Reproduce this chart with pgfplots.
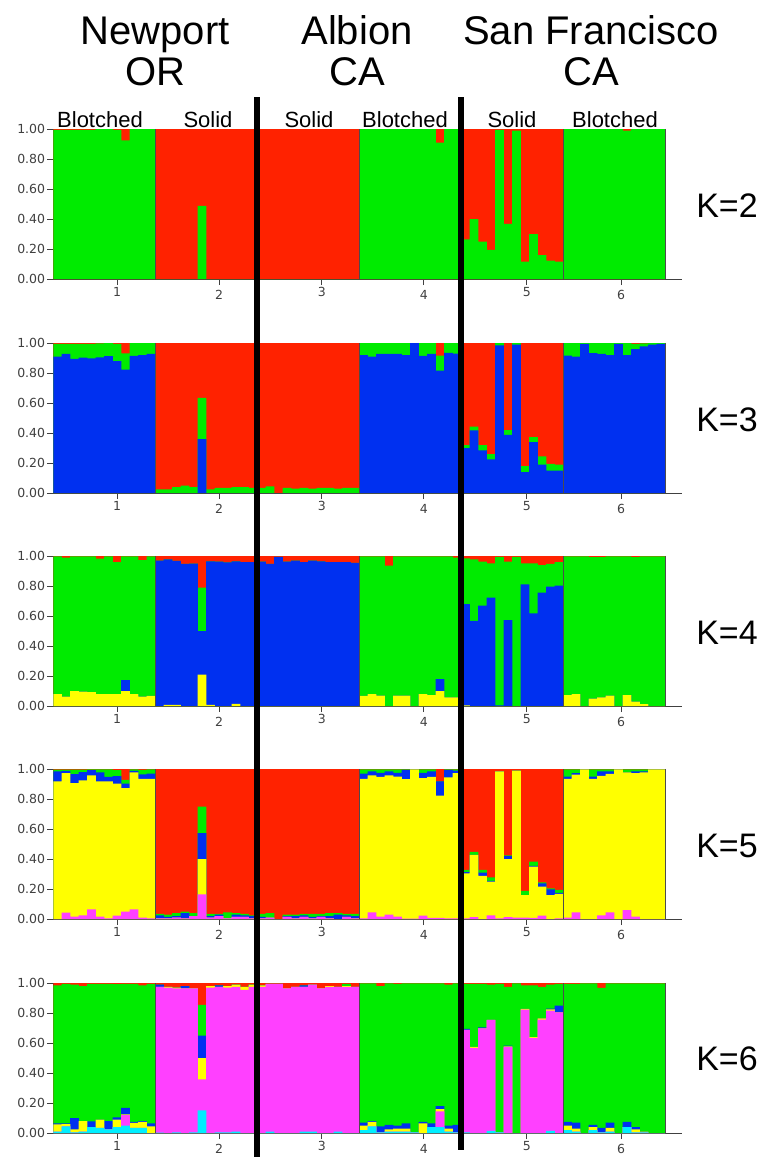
\documentclass[border=0pt]{standalone}
\usepackage{fontspec}
\setmainfont{Liberation Sans}
\newfontfamily\dejavu{DejaVu Sans}
\usepackage{pgfplots}
\usepackage{pgfplotstable}
\pgfplotsset{compat=1.18}
\definecolor{cred}{RGB}{255,34,0}
\definecolor{cgreen}{RGB}{0,235,0}
\definecolor{cblue}{RGB}{0,48,240}
\definecolor{cyellow}{RGB}{255,255,0}
\definecolor{cmag}{RGB}{255,64,255}
\definecolor{ccyan}{RGB}{0,238,255}

\pgfplotstableread{
i r g
1 1 0.995
2 1 0.995
3 1 0.995
4 1 0.995
5 1 0.995
6 1 1
7 1 1
8 1 0.995
9 1 0.925
10 1 1
11 1 1
12 1 1
13 1 0
14 1 0
15 1 0
16 1 0
17 1 0
18 1 0.487
19 1 0
20 1 0
21 1 0
22 1 0
23 1 0
24 1 0
25 1 0
26 1 0
27 1 0
28 1 0
29 1 0
30 1 0
31 1 0
32 1 0
33 1 0
34 1 0
35 1 0
36 1 0
37 1 1
38 1 1
39 1 1
40 1 1
41 1 1
42 1 1
43 1 1
44 1 1
45 1 1
46 1 0.91
47 1 1
48 1 1
49 1 0.265
50 1 0.40
51 1 0.25
52 1 0.194
53 1 0.995
54 1 0.367
55 1 0.99
56 1 0.116
57 1 0.30
58 1 0.16
59 1 0.122
60 1 0.116
61 1 1
62 1 1
63 1 1
64 1 1
65 1 1
66 1 1
67 1 1
68 1 0.99
69 1 1
70 1 1
71 1 1
72 1 1
}\tabA

\pgfplotstableread{
i r g b
1 1 0.995 0.909
2 1 0.995 0.927
3 1 0.995 0.894
4 1 0.995 0.902
5 1 0.995 0.898
6 1 0.997 0.905
7 1 1 0.912
8 1 0.995 0.88
9 1 0.931 0.823
10 1 1 0.915
11 1 1 0.92
12 1 1 0.927
13 1 0.025 0
14 1 0.025 0
15 1 0.04 0
16 1 0.05 0
17 1 0.04 0
18 1 0.635 0.36
19 1 0.025 0
20 1 0.035 0
21 1 0.035 0
22 1 0.04 0
23 1 0.04 0
24 1 0.035 0
25 1 0.035 0
26 1 0.045 0
27 1 0 0
28 1 0.035 0
29 1 0.03 0
30 1 0.035 0
31 1 0.03 0
32 1 0.035 0
33 1 0.035 0
34 1 0.03 0
35 1 0.035 0
36 1 0.035 0
37 1 1 0.92
38 1 1 0.91
39 1 1 0.927
40 1 1 0.927
41 1 1 0.927
42 1 1 0.92
43 1 1 1
44 1 1 0.915
45 1 1 0.927
46 1 0.916 0.816
47 1 1 0.935
48 1 1 0.93
49 1 0.32 0.30
50 1 0.443 0.417
51 1 0.32 0.284
52 1 0.26 0.224
53 1 1 0.985
54 1 0.42 0.388
55 1 1 0.99
56 1 0.18 0.14
57 1 0.372 0.34
58 1 0.244 0.19
59 1 0.195 0.15
60 1 0.19 0.15
61 1 1 0.916
62 1 1 0.91
63 1 1 0.995
64 1 1 0.933
65 1 1 0.927
66 1 1 0.92
67 1 1 0.995
68 1 1 0.92
69 1 0.995 0.96
70 1 0.998 0.978
71 1 1 0.99
72 1 1 0.995
}\tabB

\pgfplotstableread{
i r g b y
1 1 0.997 0.08 0.08
2 1 0.99 0.062 0.062
3 1 0.997 0.10 0.10
4 1 0.997 0.096 0.096
5 1 0.997 0.093 0.093
6 1 0.982 0.08 0.08
7 1 0.997 0.08 0.08
8 1 0.96 0.08 0.08
9 1 0.997 0.173 0.10
10 1 0.997 0.08 0.08
11 1 0.973 0.062 0.062
12 1 0.997 0.067 0.067
13 1 0.97 0.97 0
14 1 0.978 0.978 0.008
15 1 0.967 0.967 0.008
16 1 0.947 0.947 0
17 1 0.95 0.95 0
18 1 0.79 0.50 0.21
19 1 0.965 0.965 0.008
20 1 0.962 0.962 0
21 1 0.958 0.958 0
22 1 0.965 0.965 0.015
23 1 0.96 0.96 0
24 1 0.96 0.96 0
25 1 0.962 0.962 0
26 1 0.947 0.947 0
27 1 0.995 0.995 0
28 1 0.962 0.962 0
29 1 0.97 0.97 0
30 1 0.96 0.96 0
31 1 0.97 0.97 0
32 1 0.965 0.965 0
33 1 0.96 0.96 0
34 1 0.96 0.96 0
35 1 0.96 0.96 0
36 1 0.955 0.955 0
37 1 0.997 0.067 0.067
38 1 0.997 0.08 0.08
39 1 0.997 0.07 0.07
40 1 0.936 0 0
41 1 0.997 0.07 0.07
42 1 0.997 0.07 0.07
43 1 0.997 0 0
44 1 0.997 0.08 0.08
45 1 0.997 0.073 0.073
46 1 0.997 0.18 0.10
47 1 0.997 0.058 0.058
48 1 0.99 0.058 0.058
49 1 0.985 0.68 0.005
50 1 0.978 0.567 0
51 1 0.962 0.67 0
52 1 0.951 0.722 0
53 1 0.995 0.005 0
54 1 0.962 0.573 0
55 1 0.995 0 0
56 1 0.951 0.811 0
57 1 0.951 0.618 0
58 1 0.94 0.756 0
59 1 0.947 0.796 0
60 1 0.96 0.802 0
61 1 0.997 0.073 0.073
62 1 0.997 0.08 0.08
63 1 0.997 0 0
64 1 0.992 0.049 0.049
65 1 0.992 0.058 0.058
66 1 0.997 0.07 0.07
67 1 0.997 0 0
68 1 0.997 0.073 0.073
69 1 0.992 0.029 0.029
70 1 0.997 0.013 0.013
71 1 0.997 0 0
72 1 0.997 0 0
}\tabC

\pgfplotstableread{
i r g b y m
1 1 0.996 0.984 0.918 0
2 1 0.996 0.988 0.973 0.042
3 1 0.996 0.966 0.906 0.016
4 1 0.996 0.979 0.924 0.024
5 1 0.998 0.993 0.958 0.065
6 1 0.998 0.978 0.918 0.016
7 1 0.998 0.948 0.918 0.005
8 1 0.992 0.952 0.902 0.022
9 1 0.928 0.903 0.873 0.049
10 1 0.998 0.988 0.978 0.065
11 1 0.995 0.965 0.935 0.009
12 1 0.998 0.97 0.935 0.005
13 1 0.035 0.025 0.005 0.005
14 1 0.03 0.015 0.005 0.005
15 1 0.04 0.02 0.01 0.01
16 1 0.05 0.04 0.005 0.005
17 1 0.04 0.02 0.02 0.02
18 1 0.75 0.572 0.40 0.165
19 1 0.035 0.02 0.01 0.01
20 1 0.035 0.03 0.02 0.02
21 1 0.045 0.005 0.005 0.005
22 1 0.04 0.03 0.015 0.015
23 1 0.035 0.025 0.015 0.015
24 1 0.025 0.02 0.005 0.005
25 1 0.035 0.015 0.005 0.005
26 1 0.04 0.01 0.01 0.01
27 1 0 0 0 0
28 1 0.03 0.02 0.015 0.015
29 1 0.03 0.02 0.005 0.005
30 1 0.035 0.025 0.015 0.015
31 1 0.035 0.015 0.005 0.005
32 1 0.035 0.02 0.015 0.015
33 1 0.04 0.02 0.005 0.005
34 1 0.04 0.03 0 0
35 1 0.035 0.025 0.015 0.015
36 1 0.035 0.02 0.005 0.005
37 1 0.997 0.97 0.935 0.005
38 1 0.997 0.985 0.958 0.045
39 1 0.997 0.975 0.947 0.016
40 1 0.997 0.985 0.958 0.029
41 1 0.997 0.975 0.95 0.016
42 1 0.997 0.995 0.933 0.003
43 1 0.997 0.997 0.997 0.003
44 1 0.997 0.975 0.94 0.022
45 1 0.997 0.985 0.947 0.007
46 1 0.918 0.918 0.822 0.007
47 1 0.997 0.995 0.944 0.005
48 1 0.997 0.99 0.973 0.005
49 1 0.327 0.313 0.305 0.005
50 1 0.448 0.428 0.428 0.013
51 1 0.327 0.31 0.287 0
52 1 0.278 0.255 0.25 0.025
53 1 0.984 0.984 0.984 0.004
54 1 0.425 0.42 0.40 0.013
55 1 0.99 0.99 0.99 0.01
56 1 0.187 0.16 0.16 0.01
57 1 0.383 0.355 0.35 0.007
58 1 0.245 0.238 0.216 0.022
59 1 0.205 0.198 0.16 0
60 1 0.194 0.175 0.167 0.005
61 1 0.997 0.95 0.935 0.01
62 1 0.997 0.972 0.962 0.045
63 1 0.997 0.997 0.997 0
64 1 0.997 0.95 0.935 0
65 1 0.997 0.985 0.955 0.025
66 1 0.997 0.985 0.967 0.045
67 1 0.997 0.997 0.997 0
68 1 0.997 0.978 0.978 0.06
69 1 0.997 0.985 0.973 0.016
70 1 0.997 0.985 0.978 0
71 1 0.997 0.997 0.997 0
72 1 0.997 0.997 0.997 0
}\tabD

\pgfplotstableread{
i r g b y m c
1 1 0.985 0.065 0.058 0.01 0.01
2 1 0.995 0.065 0.06 0.045 0.045
3 1 0.99 0.10 0.025 0.005 0.005
4 1 0.98 0.08 0.08 0.01 0.01
5 1 0.995 0.078 0.04 0.04 0.04
6 1 0.995 0.09 0.09 0.035 0.035
7 1 0.995 0.08 0.025 0.025 0.025
8 1 0.992 0.105 0.09 0.04 0.04
9 1 0.995 0.168 0.125 0.12 0.05
10 1 0.995 0.075 0.067 0.035 0.035
11 1 0.985 0.08 0.075 0.035 0.035
12 1 0.995 0.065 0.045 0 0
13 1 0.99 0.99 0.975 0.975 0.003
14 1 0.975 0.975 0.975 0.97 0
15 1 0.97 0.97 0.97 0.965 0.005
16 1 0.98 0.98 0.965 0.965 0
17 1 0.965 0.965 0.965 0.965 0.005
18 1 0.855 0.65 0.50 0.357 0.151
19 1 0.98 0.98 0.98 0.97 0
20 1 0.985 0.985 0.975 0.975 0.005
21 1 0.98 0.98 0.98 0.97 0.005
22 1 0.99 0.99 0.99 0.975 0.01
23 1 0.975 0.975 0.975 0.955 0
24 1 0.99 0.99 0.99 0.975 0
25 1 0.985 0.985 0.985 0.975 0
26 1 0.995 0.995 0.995 0.995 0.01
27 1 0.995 0.995 0.995 0.995 0
28 1 0.965 0.965 0.965 0.965 0
29 1 0.975 0.975 0.975 0.975 0
30 1 0.985 0.985 0.975 0.975 0.01
31 1 0.99 0.99 0.99 0.99 0.01
32 1 0.965 0.965 0.965 0.965 0
33 1 0.98 0.98 0.98 0.975 0
34 1 0.975 0.975 0.975 0.975 0.01
35 1 0.995 0.98 0.98 0.975 0
36 1 0.975 0.975 0.975 0.975 0
37 1 0.997 0.07 0.05 0.02 0.02
38 1 0.997 0.08 0.075 0.045 0.045
39 1 0.98 0.045 0.005 0.005 0.005
40 1 0.997 0.055 0.025 0.01 0.01
41 1 0.995 0.05 0.03 0.01 0.01
42 1 0.997 0.065 0.03 0.01 0.01
43 1 0.997 0.005 0.005 0.005 0.005
44 1 0.997 0.075 0.065 0 0
45 1 0.997 0.065 0.04 0.04 0.04
46 1 0.997 0.18 0.16 0.145 0.04
47 1 0.99 0.05 0.03 0.01 0.01
48 1 0.997 0.055 0.005 0.005 0.005
49 1 0.995 0.695 0.687 0.687 0.005
50 1 0.995 0.575 0.575 0.568 0
51 1 0.995 0.705 0.698 0.698 0
52 1 0.99 0.754 0.754 0.754 0.015
53 1 0.995 0.005 0.005 0.005 0.005
54 1 0.975 0.582 0.578 0.572 0
55 1 0.997 0 0 0 0
56 1 0.985 0.828 0.828 0.822 0
57 1 0.985 0.64 0.64 0.634 0
58 1 0.975 0.765 0.765 0.756 0
59 1 0.99 0.83 0.825 0.816 0.015
60 1 0.995 0.85 0.805 0.805 0
61 1 0.995 0.075 0.05 0.02 0.02
62 1 0.995 0.07 0.03 0.01 0.01
63 1 0.997 0 0 0 0
64 1 0.997 0.055 0.04 0.02 0.02
65 1 0.967 0.035 0.005 0.005 0.005
66 1 0.997 0.07 0.035 0.01 0.01
67 1 0.997 0 0 0 0
68 1 0.997 0.075 0.04 0.04 0.04
69 1 0.997 0.04 0.025 0.005 0.005
70 1 0.997 0.01 0.01 0.005 0.005
71 1 0.997 0 0 0 0
72 1 0.997 0 0 0 0
}\tabE

\pgfplotsset{
  sp/.style={
    scale only axis, width=629pt, height=150pt,
    xmin=0.5, xmax=74.5, ymin=0, ymax=1,
    axis x line=bottom, axis y line=left,
    axis line style={-, line width=0.8pt, black!75},
    ytick={0,0.2,0.4,0.6,0.8,1},
    yticklabel style={/pgf/number format/fixed, /pgf/number format/fixed zerofill, /pgf/number format/precision=2, inner sep=2pt},
    xtick={8,32.1,56.2}, xticklabels={1,3,5},
    extra x ticks={20,44.1,67.3}, extra x tick labels={2,4,6},
    extra x tick style={xticklabel style={yshift=-3pt}},
    tick align=outside, major tick length=6pt,
    tick style={black!75, line width=0.8pt},
    tick label style={font=\fontsize{12.5}{14}\selectfont\dejavu, text=black!75},
    xticklabel style={inner sep=2pt},
    /pgf/number format/assume math mode=true,
  },
  bs/.style={ybar, bar width=1.02, bar shift=0pt, fill=#1, draw=none},
}
\newcommand{\pops}{%
  \draw[black!70, line width=0.7pt] (axis cs:12.5,0) -- (axis cs:12.5,1);
  \draw[black!70, line width=0.7pt] (axis cs:24.5,0) -- (axis cs:24.5,1);
  \draw[black!70, line width=0.7pt] (axis cs:36.5,0) -- (axis cs:36.5,1);
  \draw[black!70, line width=0.7pt] (axis cs:48.5,0) -- (axis cs:48.5,1);
  \draw[black!70, line width=0.7pt] (axis cs:60.5,0) -- (axis cs:60.5,1);
  \draw[black!70, line width=0.7pt] (axis cs:72.5,0) -- (axis cs:72.5,1);
}

\begin{document}
\begin{tikzpicture}
\path[use as bounding box] (0pt,0pt) rectangle (763pt,-1157pt);

% K=2
\begin{axis}[sp, at={(53.3pt,-279pt)}, anchor=south west]
\addplot[bs=cred] table[x=i,y=r]{\tabA};
\addplot[bs=cgreen] table[x=i,y=g]{\tabA};
\pops
\end{axis}

% K=3
\begin{axis}[sp, at={(53.3pt,-493pt)}, anchor=south west]
\addplot[bs=cred] table[x=i,y=r]{\tabB};
\addplot[bs=cgreen] table[x=i,y=g]{\tabB};
\addplot[bs=cblue] table[x=i,y=b]{\tabB};
\pops
\end{axis}

% K=4
\begin{axis}[sp, at={(53.3pt,-706pt)}, anchor=south west]
\addplot[bs=cred] table[x=i,y=r]{\tabC};
\addplot[bs=cgreen] table[x=i,y=g]{\tabC};
\addplot[bs=cblue] table[x=i,y=b]{\tabC};
\addplot[bs=cyellow] table[x=i,y=y]{\tabC};
\pops
\end{axis}

% K=5
\begin{axis}[sp, at={(53.3pt,-919pt)}, anchor=south west]
\addplot[bs=cred] table[x=i,y=r]{\tabD};
\addplot[bs=cgreen] table[x=i,y=g]{\tabD};
\addplot[bs=cblue] table[x=i,y=b]{\tabD};
\addplot[bs=cyellow] table[x=i,y=y]{\tabD};
\addplot[bs=cmag] table[x=i,y=m]{\tabD};
\pops
\end{axis}

% K=6
\begin{axis}[sp, at={(53.3pt,-1133pt)}, anchor=south west]
\addplot[bs=cred] table[x=i,y=r]{\tabE};
\addplot[bs=cgreen] table[x=i,y=g]{\tabE};
\addplot[bs=cblue] table[x=i,y=b]{\tabE};
\addplot[bs=cyellow] table[x=i,y=y]{\tabE};
\addplot[bs=cmag] table[x=i,y=m]{\tabE};
\addplot[bs=ccyan] table[x=i,y=c]{\tabE};
\pops
\end{axis}

% thick separators
\draw[line width=6pt, black] (256.5pt,-97pt) -- (256.5pt,-1157pt);
\draw[line width=6pt, black] (460.5pt,-97pt) -- (460.5pt,-1150pt);

% titles
\begin{scope}[every node/.style={font=\fontsize{40}{40}\selectfont, anchor=base, inner sep=0pt}]
\node at (155pt,-44pt) {Newport};
\node at (155pt,-85pt) {OR};
\node at (357pt,-44pt) {Albion};
\node at (357pt,-85pt) {CA};
\node at (591pt,-44pt) {San Francisco};
\node at (591pt,-85pt) {CA};
\end{scope}

% morph labels
\begin{scope}[every node/.style={font=\fontsize{22}{22}\selectfont, anchor=base, inner sep=0pt}]
\node at (100pt,-127pt) {Blotched};
\node at (208pt,-127pt) {Solid};
\node at (309pt,-127pt) {Solid};
\node at (405pt,-127pt) {Blotched};
\node at (512pt,-127pt) {Solid};
\node at (615pt,-127pt) {Blotched};
\end{scope}

% K labels
\begin{scope}[every node/.style={font=\fontsize{34}{34}\selectfont, anchor=center, inner sep=0pt}]
\node at (727pt,-206pt) {K=2};
\node at (727pt,-420pt) {K=3};
\node at (727pt,-633pt) {K=4};
\node at (727pt,-846pt) {K=5};
\node at (727pt,-1059pt) {K=6};
\end{scope}
\end{tikzpicture}
\end{document}
